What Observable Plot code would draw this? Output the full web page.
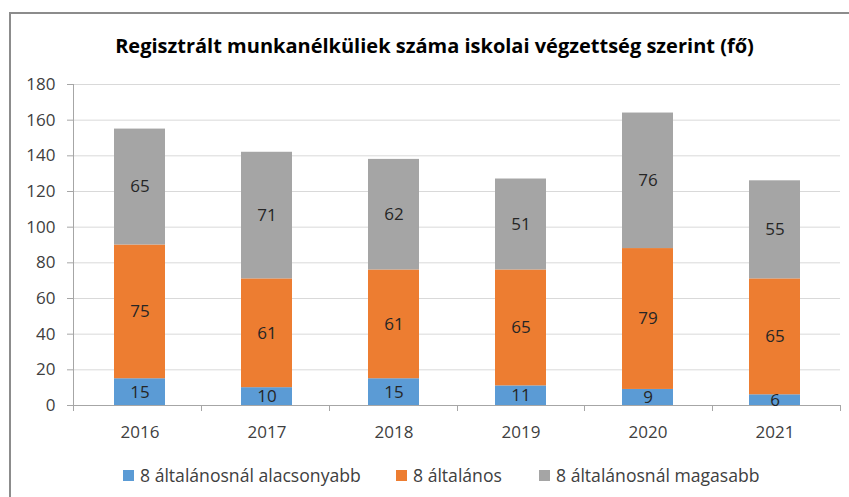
<!DOCTYPE html>
<html>
<head>
<meta charset="utf-8">
<script src="https://cdn.jsdelivr.net/npm/d3@7"></script>
<script src="https://cdn.jsdelivr.net/npm/@observablehq/plot@0.6"></script>
<style>
  body { margin: 0; background: #fff; }
  #wrap { position: relative; width: 849px; height: 497px; overflow: hidden; font-family: "Open Sans", sans-serif; }
  #frame { position: absolute; left: 9px; top: 12px; width: 860px; height: 500px; border: 2px solid #8c8c8c; box-sizing: border-box; }
  #title { position: absolute; left: 10px; width: 849px; top: 33px; text-align: center; font-family: "Open Sans", sans-serif; font-weight: bold; font-size: 20px; color: #000; line-height: 26px; white-space: nowrap; }
  #chart { position: absolute; left: 0; top: 70px; }
  #legend { position: absolute; top: 463px; left: 0; width: 849px; font-size: 17.6px; color: #404040; }
  .item { position: absolute; display: flex; align-items: center; white-space: nowrap; line-height: 24px; }
  .sw { width: 11px; height: 11px; margin-right: 6px; }
</style>
</head>
<body>
<div id="wrap">
  <div id="frame"></div>
  <div id="title">Regisztrált munkanélküliek száma iskolai végzettség szerint (fő)</div>
  <div id="chart"></div>
  <div id="legend"></div>
</div>
<script>
const years = ["2016", "2017", "2018", "2019", "2020", "2021"];
const seriesNames = ["8 általánosnál alacsonyabb", "8 általános", "8 általánosnál magasabb"];
const seriesColors = ["#5b9bd5", "#ed7d31", "#a5a5a5"];
const lowerValues = [15, 10, 15, 11, 9, 6];
const primaryValues = [75, 61, 61, 65, 79, 65];
const higherValues = [65, 71, 62, 51, 76, 55];
const yTicks = [0, 20, 40, 60, 80, 100, 120, 140, 160, 180];

const seriesValues = [lowerValues, primaryValues, higherValues];
const data = [];
seriesNames.forEach((s, si) => {
  years.forEach((yr, i) => data.push({year: yr, series: s, value: seriesValues[si][i]}));
});

const W = 849, H = 380;
const mL = 73, mR = 9, mT = 14, mB = 45;

const axisLines = (index, scales, values, dimensions) => {
  const {width, marginLeft, marginRight} = dimensions;
  const y = scales.y;
  const y0 = y(0), yTop = y(180);
  const step = (width - marginLeft - marginRight) / years.length;
  const g = d3.create("svg:g").attr("stroke", "#a6a6a6").attr("stroke-width", 1).attr("fill", "none");
  g.append("line").attr("x1", marginLeft + 0.5).attr("x2", marginLeft + 0.5).attr("y1", yTop).attr("y2", y0);
  g.append("line").attr("x1", marginLeft).attr("x2", width - marginRight).attr("y1", y0 + 0.5).attr("y2", y0 + 0.5);
  for (let i = 0; i <= years.length; i++) {
    const xx = Math.round(marginLeft + i * step) + 0.5;
    g.append("line").attr("x1", xx).attr("x2", xx).attr("y1", y0).attr("y2", y0 + 6);
  }
  return g.node();
};

const chart = Plot.plot({
  width: W,
  height: H,
  marginLeft: mL,
  marginRight: mR,
  marginTop: mT,
  marginBottom: mB,
  style: {fontFamily: "'Open Sans', sans-serif", fontSize: "16px", color: "#404040", background: "transparent"},
  x: {domain: years, paddingInner: 0.6, paddingOuter: 0.3, label: null},
  y: {domain: [0, 180], label: null},
  color: {domain: seriesNames, range: seriesColors},
  marks: [
    Plot.gridY(yTicks, {stroke: "#d9d9d9", strokeOpacity: 1}),
    Plot.barY(data, {x: "year", y: "value", fill: "series", z: "series"}),
    axisLines,
    Plot.axisY(yTicks, {tickSize: 6, tickPadding: 12, stroke: "#a6a6a6", fill: "#404040", fontSize: 17, label: null}),
    Plot.axisX({tickSize: 0, tickPadding: 20, fill: "#404040", fontSize: 17, label: null}),
    Plot.text(data, Plot.stackY({x: "year", y: "value", z: "series", text: d => String(d.value), fill: "#262626", fontSize: 17}))
  ]
});
document.getElementById("chart").appendChild(chart);

const legend = document.getElementById("legend");
const legendX = [123, 396, 539];
seriesNames.forEach((s, i) => {
  const it = document.createElement("div");
  it.className = "item";
  it.style.left = legendX[i] + "px";
  const sw = document.createElement("span");
  sw.className = "sw";
  sw.style.background = seriesColors[i];
  const tx = document.createElement("span");
  tx.textContent = s;
  it.appendChild(sw);
  it.appendChild(tx);
  legend.appendChild(it);
});
</script>
</body>
</html>
